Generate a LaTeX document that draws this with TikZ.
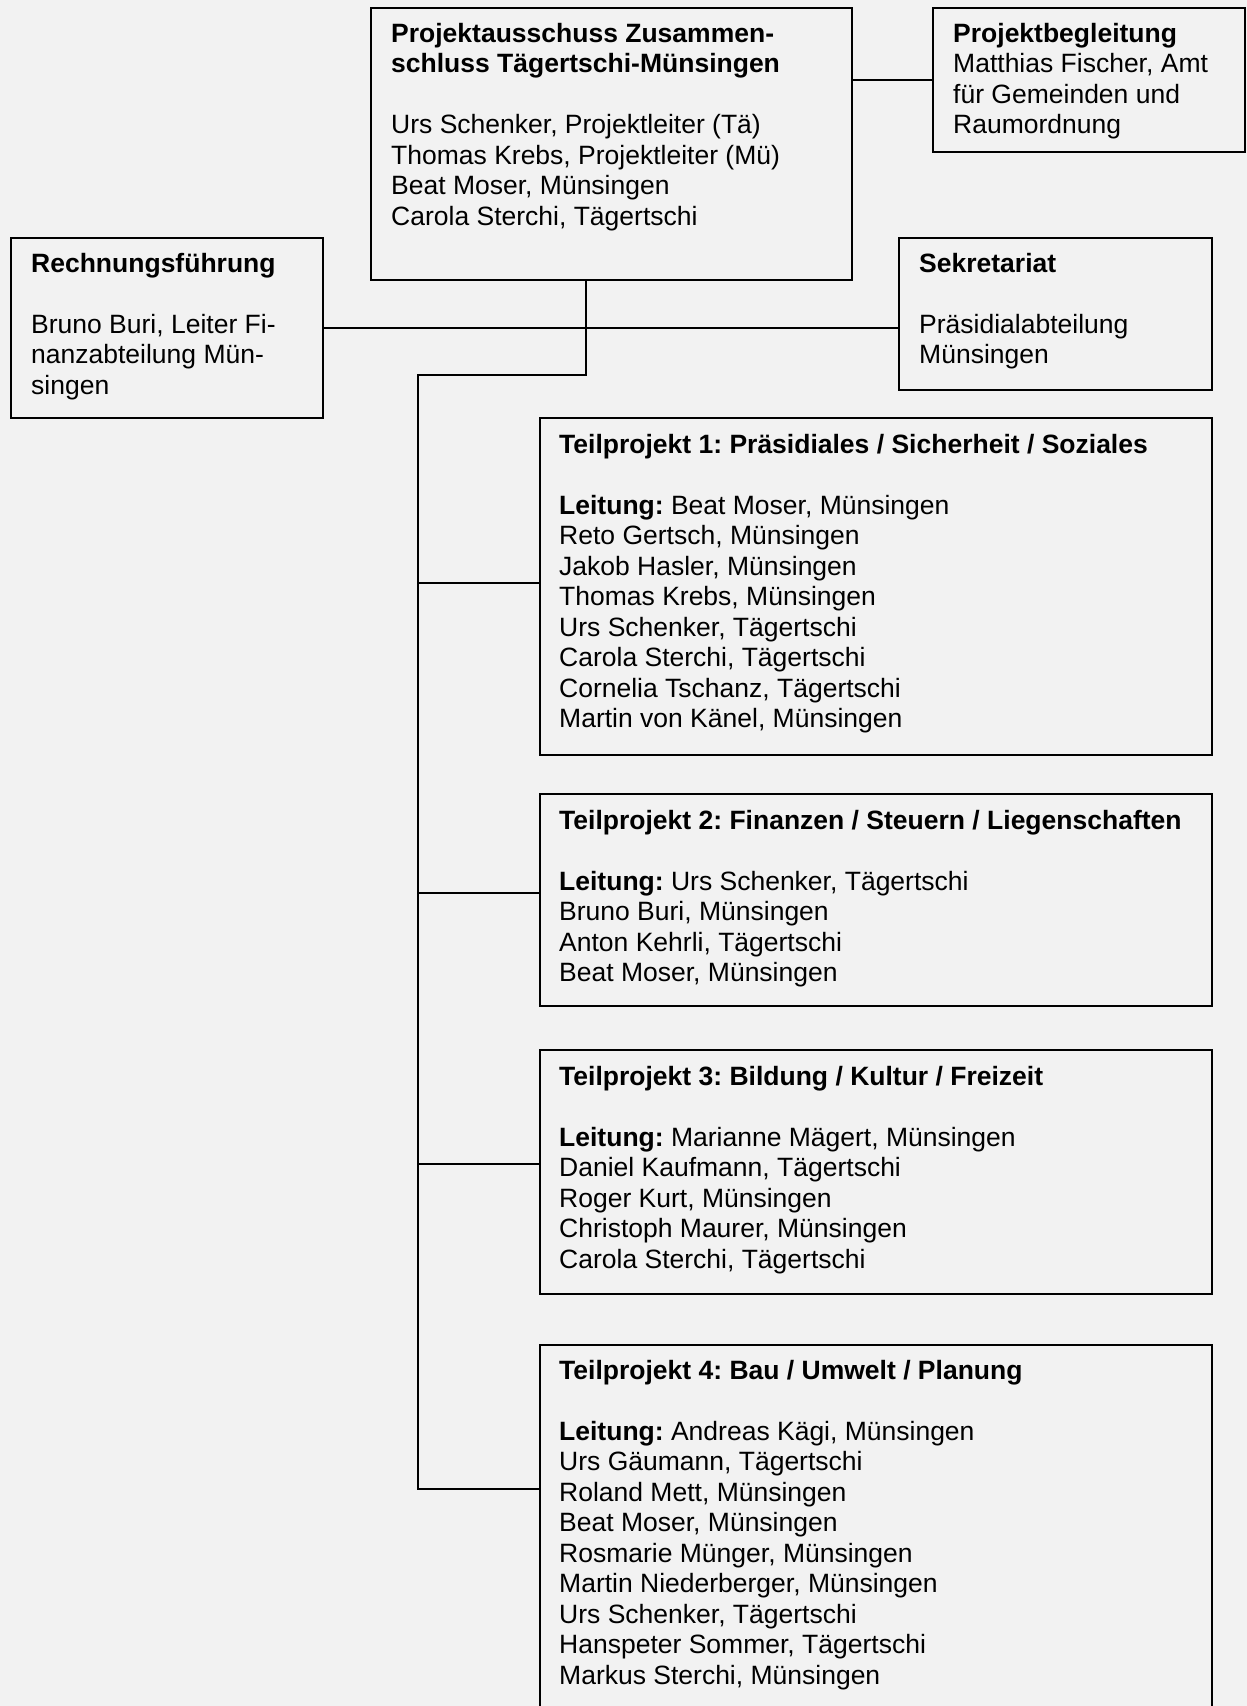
\documentclass[tikz,border=0pt]{standalone}
\usepackage{fontspec}
\setmainfont{Liberation Sans}
\definecolor{bg}{HTML}{F2F2F2}
\frenchspacing
\begin{document}
\begin{tikzpicture}[x=1pt,y=-1pt,
  box/.style={draw=black,line width=2pt,rectangle,inner sep=0pt,anchor=north west},
  conn/.style={draw=black,line width=2pt},
  txt/.style={anchor=base west,inner sep=0pt,font=\fontsize{26.5}{30.5}\selectfont\frenchspacing}]
\fill[bg] (0,0) rectangle (1247,1706);
\useasboundingbox (0,0) rectangle (1247,1706);
\clip (0,0) rectangle (1247,1706);

\node[box,minimum width=481pt,minimum height=272pt] (main) at (370,7) {};
\node[box,minimum width=312pt,minimum height=144pt] (pb) at (932,7) {};
\node[box,minimum width=312pt,minimum height=180pt] (rech) at (10,237) {};
\node[box,minimum width=313pt,minimum height=152pt] (sekr) at (898,237) {};
\node[box,minimum width=672pt,minimum height=337pt] (tp1) at (539,417) {};
\node[box,minimum width=672pt,minimum height=212pt] (tp2) at (539,793) {};
\node[box,minimum width=672pt,minimum height=244pt] (tp3) at (539,1049) {};
\node[box,minimum width=672pt,minimum height=420pt] (tp4) at (539,1344) {};

\node[txt] (tmain) at (391,42) {\parbox[t]{460pt}{\raggedright
\textbf{Projektausschuss Zusammen-}\\
\textbf{schluss Tägertschi-Münsingen}\\[30.5pt]
Urs Schenker, Projektleiter (Tä)\\
Thomas Krebs, Projektleiter (Mü)\\
Beat Moser, Münsingen\\
Carola Sterchi, Tägertschi}};

\node[txt] (tpb) at (953,42) {\parbox[t]{300pt}{\raggedright
\textbf{Projektbegleitung}\\
Matthias Fischer, Amt\\
für Gemeinden und\\
Raumordnung}};

\node[txt] (trech) at (31,272) {\parbox[t]{300pt}{\raggedright
\textbf{Rechnungsführung}\\[30.5pt]
Bruno Buri, Leiter Fi-\\
nanzabteilung Mün-\\
singen}};

\node[txt] (tsekr) at (919,272) {\parbox[t]{300pt}{\raggedright
\textbf{Sekretariat}\\[30.5pt]
Präsidialabteilung\\
Münsingen}};

\node[txt] (ttp1) at (559,453) {\parbox[t]{640pt}{\raggedright
\textbf{Teilprojekt 1: Präsidiales / Sicherheit / Soziales}\\[30.5pt]
\textbf{Leitung:} Beat Moser, Münsingen\\
Reto Gertsch, Münsingen\\
Jakob Hasler, Münsingen\\
Thomas Krebs, Münsingen\\
Urs Schenker, Tägertschi\\
Carola Sterchi, Tägertschi\\
Cornelia Tschanz, Tägertschi\\
Martin von Känel, Münsingen}};

\node[txt] (ttp2) at (559,829) {\parbox[t]{640pt}{\raggedright
\textbf{Teilprojekt 2: Finanzen / Steuern / Liegenschaften}\\[30.5pt]
\textbf{Leitung:} Urs Schenker, Tägertschi\\
Bruno Buri, Münsingen\\
Anton Kehrli, Tägertschi\\
Beat Moser, Münsingen}};

\node[txt] (ttp3) at (559,1085) {\parbox[t]{640pt}{\raggedright
\textbf{Teilprojekt 3: Bildung / Kultur / Freizeit}\\[30.5pt]
\textbf{Leitung:} Marianne Mägert, Münsingen\\
Daniel Kaufmann, Tägertschi\\
Roger Kurt, Münsingen\\
Christoph Maurer, Münsingen\\
Carola Sterchi, Tägertschi}};

\node[txt] (ttp4) at (559,1379) {\parbox[t]{640pt}{\raggedright
\textbf{Teilprojekt 4: Bau / Umwelt / Planung}\\[30.5pt]
\textbf{Leitung:} Andreas Kägi, Münsingen\\
Urs Gäumann, Tägertschi\\
Roland Mett, Münsingen\\
Beat Moser, Münsingen\\
Rosmarie Münger, Münsingen\\
Martin Niederberger, Münsingen\\
Urs Schenker, Tägertschi\\
Hanspeter Sommer, Tägertschi\\
Markus Sterchi, Münsingen}};

\coordinate (mtap) at ([xshift=216pt]main.south west);
\coordinate (j0) at (418,375);
\coordinate (t1) at ([yshift=-166pt]tp1.north west);
\coordinate (t2) at ([yshift=-100pt]tp2.north west);
\coordinate (t3) at ([yshift=-115pt]tp3.north west);
\coordinate (t4) at ([yshift=-145pt]tp4.north west);

\draw[conn] (pb.west) -- (pb.west -| main.east);
\draw[conn] (rech.east) -- (rech.east -| sekr.west);
\draw[conn] (mtap) |- (j0) -- (j0 |- t4) -- (t4);
\draw[conn] (t1 -| j0) -- (t1);
\draw[conn] (t2 -| j0) -- (t2);
\draw[conn] (t3 -| j0) -- (t3);
\end{tikzpicture}
\end{document}
